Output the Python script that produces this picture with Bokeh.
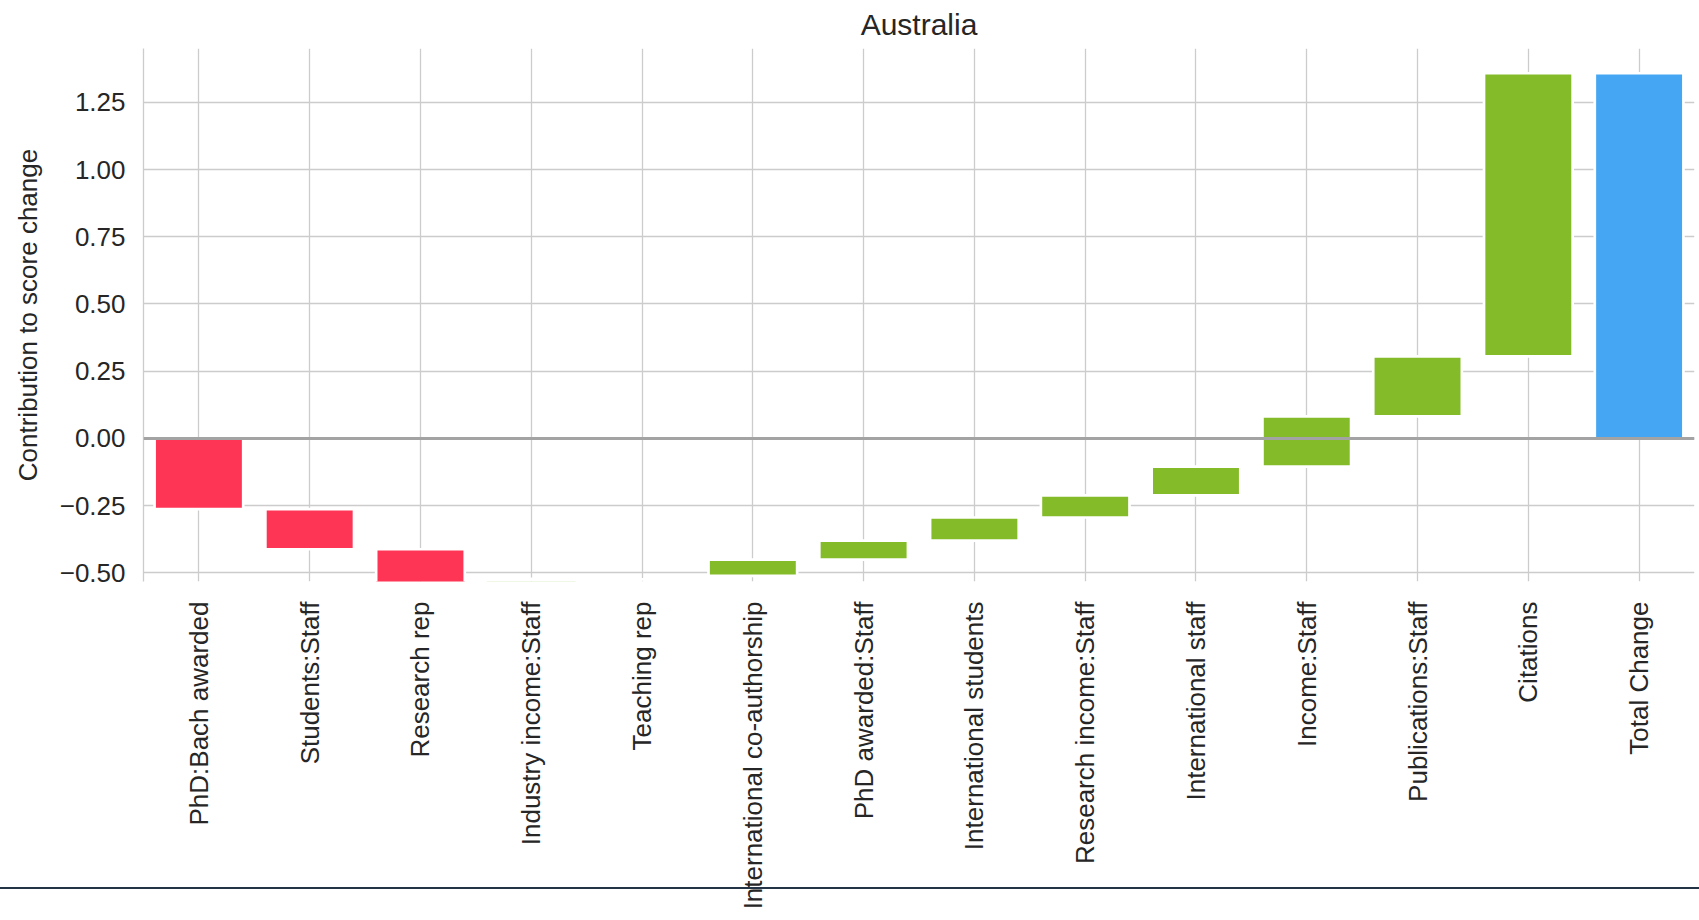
import math
from bokeh.plotting import figure
from bokeh.models import ColumnDataSource, FactorRange, FixedTicker, Span, Range1d
from bokeh.embed import file_html
from bokeh.resources import INLINE

# ---- data ----
title_text = "Australia"
categories = [
    "PhD:Bach awarded", "Students:Staff", "Research rep", "Industry income:Staff",
    "Teaching rep", "International co-authorship", "PhD awarded:Staff",
    "International students", "Research income:Staff", "International staff",
    "Income:Staff", "Publications:Staff", "Citations", "Total Change",
]
bar_start = [0.0, -0.263, -0.412, -0.545, -0.524, -0.511, -0.451, -0.380,
             -0.294, -0.212, -0.105, 0.082, 0.305, 0.0]
bar_end = [-0.263, -0.412, -0.545, -0.522, -0.524, -0.451, -0.380, -0.294,
           -0.212, -0.105, 0.082, 0.305, 1.358, 1.358]
total_label = "Total Change"
y_ticks = [-0.5, -0.25, 0.0, 0.25, 0.5, 0.75, 1.0, 1.25]
y_tick_labels = ["\u22120.50", "\u22120.25", "0.00", "0.25", "0.50", "0.75", "1.00", "1.25"]
y_min, y_max = -0.532, 1.45

RED, GREEN, BLUE = "#FE3554", "#84BB28", "#45A6F3"
colors = []
for c, s, e in zip(categories, bar_start, bar_end):
    if c == total_label:
        colors.append(BLUE)
    elif e >= s:
        colors.append(GREEN)
    else:
        colors.append(RED)

src = ColumnDataSource(dict(cat=categories, low=bar_start, high=bar_end, color=colors))

FONT = "Liberation Sans"
TXT = "#262626"

p = figure(
    x_range=FactorRange(factors=categories),
    y_range=Range1d(y_min, y_max),
    width=1699, height=920,
    output_backend="svg", toolbar_location=None,
    min_border_left=143, min_border_right=5,
    min_border_top=48, min_border_bottom=339,
    title=title_text,
)
p.border_fill_color = None
p.background_fill_color = "white"
p.outline_line_color = None
p.styles = {
    "background-image": "linear-gradient(to bottom, transparent 887px, #243447 887px, "
                        "#243447 889px, transparent 889px)"
}

p.title.text_font = FONT
p.title.text_font_size = "30px"
p.title.text_font_style = "normal"
p.title.text_color = TXT
p.title.align = "center"
p.title.vertical_align = "top"
p.title.text_line_height = 0.8
p.title.standoff = 11

p.vbar(x="cat", bottom="low", top="high", width=0.8, fill_color="color",
       line_color="white", line_width=2.7, source=src)

p.add_layout(Span(location=0, dimension="width", line_color="#a3a3a3", line_width=3))

for g in (p.xgrid, p.ygrid):
    g.grid_line_color = "#cccccc"
    g.grid_line_width = 1.3

xa = p.xaxis[0]
xa.axis_line_color = None
xa.major_tick_line_color = None
xa.minor_tick_line_color = None
xa.major_tick_out = 0
xa.major_label_orientation = math.pi / 2
xa.major_label_standoff = 20
xa.major_label_text_font = FONT
xa.major_label_text_font_size = "26px"
xa.major_label_text_color = TXT

ya = p.yaxis[0]
ya.ticker = FixedTicker(ticks=y_ticks)
ya.major_label_overrides = dict(zip(y_ticks, y_tick_labels))
ya.axis_line_color = "#cccccc"
ya.axis_line_width = 1.3
ya.major_tick_line_color = None
ya.minor_tick_line_color = None
ya.major_tick_out = 0
ya.major_label_standoff = 18
ya.major_label_text_font = FONT
ya.major_label_text_font_size = "26px"
ya.major_label_text_color = TXT
ya.axis_label = "Contribution to score change"
ya.axis_label_text_font = FONT
ya.axis_label_text_font_size = "26px"
ya.axis_label_text_font_style = "normal"
ya.axis_label_text_color = TXT
ya.axis_label_standoff = 14

open("out.html", "w").write(file_html(p, INLINE))
